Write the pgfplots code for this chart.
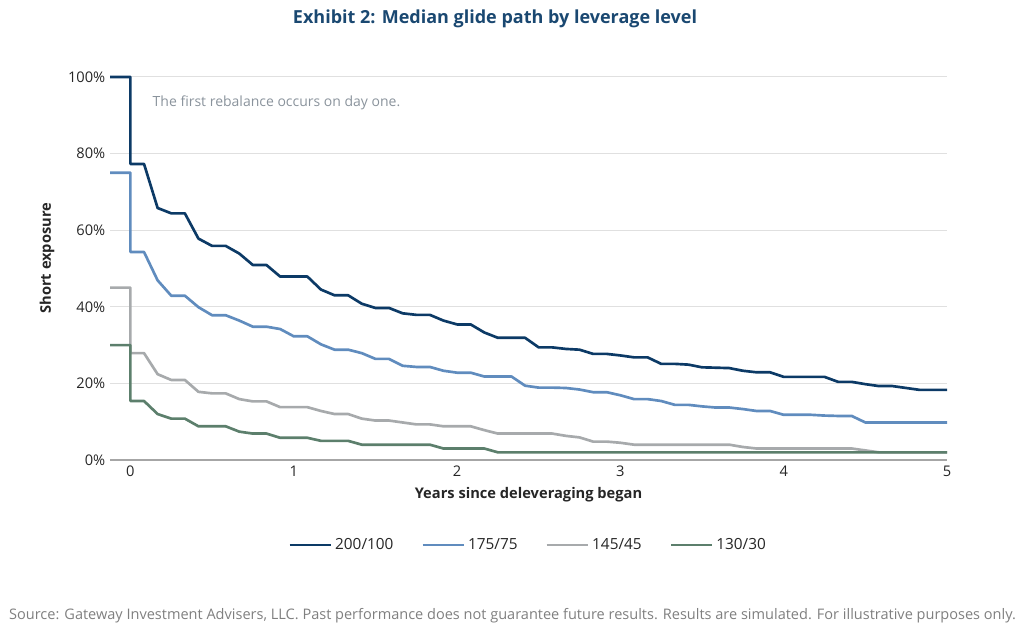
\documentclass[border=0pt]{standalone}
\usepackage{fontspec}
\setmainfont{Open Sans}
\usepackage{pgfplots}
\usepackage{pgfplotstable}
\pgfplotsset{compat=1.18}
\definecolor{cA}{HTML}{0C3A66}
\definecolor{cB}{HTML}{608CBE}
\definecolor{cC}{HTML}{A7AAAC}
\definecolor{cD}{HTML}{5C7F6C}
\definecolor{ttl}{HTML}{1A4871}
\definecolor{txt}{HTML}{262626}
\definecolor{note}{HTML}{8A939C}
\definecolor{src}{HTML}{7F7F7F}
\pgfplotstableread{
m a b c d
-1.5 100 75 45 30
0 100 75 45 30
0 77.3 54.3 27.9 15.4
1 77.3 54.3 27.9 15.4
2 65.8 46.9 22.4 12.0
3 64.4 42.9 20.9 10.8
4 64.4 42.9 20.9 10.8
5 57.8 39.9 17.8 8.8
6 55.9 37.8 17.4 8.8
7 55.9 37.8 17.4 8.8
8 53.9 36.4 15.9 7.4
9 50.9 34.8 15.3 6.9
10 50.9 34.8 15.3 6.9
11 47.9 34.2 13.8 5.8
12 47.9 32.3 13.8 5.8
13 47.9 32.3 13.8 5.8
14 44.5 30.2 12.8 5.0
15 43.0 28.8 12.0 5.0
16 43.0 28.8 12.0 5.0
17 40.8 27.9 10.8 4.0
18 39.7 26.4 10.3 4.0
19 39.7 26.4 10.3 4.0
20 38.3 24.6 9.8 4.0
21 37.9 24.3 9.3 4.0
22 37.9 24.3 9.3 4.0
23 36.4 23.3 8.8 3.0
24 35.4 22.8 8.8 3.0
25 35.4 22.8 8.8 3.0
26 33.3 21.8 7.8 3.0
27 31.9 21.8 6.9 2.0
28 31.9 21.8 6.9 2.0
29 31.9 19.4 6.9 2.0
30 29.4 18.9 6.9 2.0
31 29.4 18.9 6.9 2.0
32 29.0 18.8 6.3 2.0
33 28.8 18.4 5.9 2.0
34 27.7 17.7 4.8 2.0
35 27.7 17.7 4.8 2.0
36 27.3 16.9 4.5 2.0
37 26.8 15.9 4.0 2.0
38 26.8 15.9 4.0 2.0
39 25.1 15.4 4.0 2.0
40 25.1 14.4 4.0 2.0
41 24.9 14.4 4.0 2.0
42 24.2 14.0 4.0 2.0
43 24.1 13.7 4.0 2.0
44 24.0 13.7 4.0 2.0
45 23.3 13.3 3.4 2.0
46 22.9 12.8 3.0 2.0
47 22.9 12.8 3.0 2.0
48 21.7 11.8 3.0 2.0
49 21.7 11.8 3.0 2.0
50 21.7 11.8 3.0 2.0
51 21.7 11.6 3.0 2.0
52 20.4 11.5 3.0 2.0
53 20.4 11.5 3.0 2.0
54 19.8 9.8 2.5 2.0
55 19.3 9.8 2.0 2.0
56 19.3 9.8 2.0 2.0
57 18.8 9.8 2.0 2.0
58 18.3 9.8 2.0 2.0
59 18.3 9.8 2.0 2.0
60 18.3 9.8 2.0 2.0
}\glide
\begin{document}
\begin{tikzpicture}
\path[use as bounding box] (0,0) rectangle (768pt,471.75pt);
\node[font=\bfseries\fontsize{13.5}{16}\selectfont, text=ttl] at (371.25pt,457.5pt) {Exhibit 2: Median glide path by leverage level};
\node[font=\fontsize{10.9}{13}\selectfont, text=src] at (384.4pt,9.75pt) {Source: Gateway Investment Advisers, LLC. Past performance does not guarantee future results. Results are simulated. For illustrative purposes only.};
\begin{axis}[
  at={(82.5pt,126.75pt)}, anchor=south west,
  scale only axis, width=627.75pt, height=287.25pt,
  xmin=-0.125, xmax=5, ymin=0, ymax=100,
  clip=false,
  axis x line*=bottom, axis y line*=left,
  y axis line style={draw=none},
  x axis line style={draw=black!35, line width=0.9pt, -},
  major tick length=0pt,
  xtick={0,1,2,3,4,5},
  ytick={0,20,40,60,80,100},
  yticklabel={\pgfmathprintnumber{\tick}\%},
  /pgf/number format/assume math mode=true,
  ticklabel style={font=\fontsize{11}{13}\selectfont, text=txt},
  xticklabel style={yshift=-1pt},
  ymajorgrids, grid style={draw=black!12, line width=0.75pt},
  xlabel={Years since deleveraging began},
  ylabel={Short exposure},
  label style={font=\bfseries\fontsize{11}{13}\selectfont, text=txt},
  xlabel style={at={(axis description cs:0.5,-0.0914)}, anchor=center},
  ylabel style={at={(axis description cs:-0.0753,0.527)}, anchor=center},
  legend columns=4,
  legend style={draw=none, at={(0.5,-0.222)}, anchor=center,
    font=\fontsize{11.5}{13}\selectfont, text=txt,
    /tikz/every even column/.append style={column sep=19pt}},
  legend image code/.code={\path (0pt,0pt) -- (31pt,0pt);\draw[#1, line width=2pt] (0pt,0pt) -- (25pt,0pt);},
  every axis plot/.append style={line width=2pt, line join=round},
]
\addplot[cA] table[x expr=\thisrow{m}/12, y=a] {\glide};
\addlegendentry{200/100}
\addplot[cB] table[x expr=\thisrow{m}/12, y=b] {\glide};
\addlegendentry{175/75}
\addplot[cC] table[x expr=\thisrow{m}/12, y=c] {\glide};
\addlegendentry{145/45}
\addplot[cD] table[x expr=\thisrow{m}/12, y=d] {\glide};
\addlegendentry{130/30}
\node[anchor=west, inner sep=0pt, text=note, font=\fontsize{10.5}{12}\selectfont] at (axis cs:0.135,93.3) {The first rebalance occurs on day one.};
\end{axis}
\end{tikzpicture}
\end{document}
